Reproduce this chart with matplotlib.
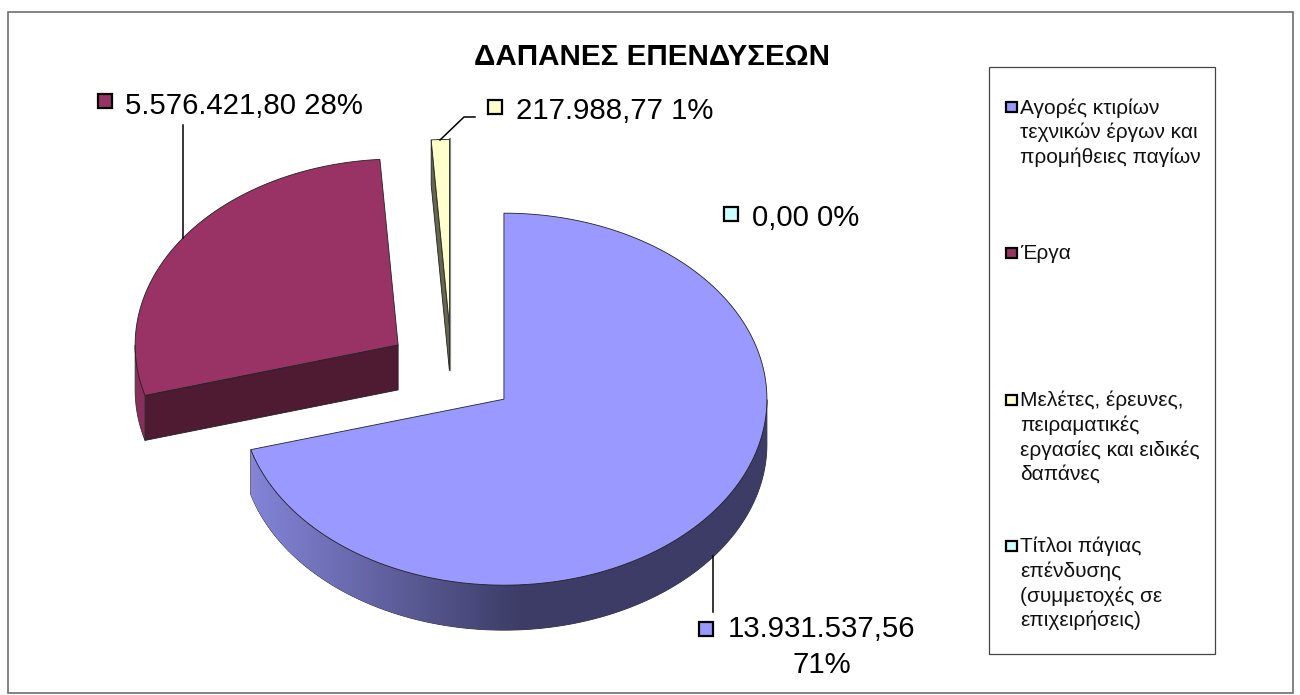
import numpy as np
import matplotlib
matplotlib.use("Agg")
import matplotlib.pyplot as plt
from matplotlib.colors import LinearSegmentedColormap
from matplotlib.patches import Polygon, Rectangle

plt.rcParams['font.family'] = ['Liberation Sans', 'DejaVu Sans']

titulo = "ΔΑΠΑΝΕΣ ΕΠΕΝΔΥΣΕΩΝ"
categorias = [
    "Αγορές κτιρίων\nτεχνικών έργων και\nπρομήθειες παγίων",
    "Έργα",
    "Μελέτες, έρευνες,\nπειραματικές\nεργασίες και ειδικές\nδαπάνες",
    "Τίτλοι πάγιας\nεπένδυσης\n(συμμετοχές σε\nεπιχειρήσεις)",
]
valores = [13931537.56, 5576421.80, 217988.77, 0.00]
cores = ["#9999FF", "#993366", "#FFFFCC", "#CCFFFF"]
paredes = ["#3C3C66", "#8A2E5C", "#66664F", "#CCFFFF"]
cortes = ["#3C3C66", "#4F1B33", "#66664F", "#CCFFFF"]

# geometria da pizza em pixels
cx, cy = 451.7, 371.4
rx, ry = 263, 186
altura = 45
ex, ey = 65.5, 46


def fmt(v):
    s = f"{v:,.2f}"
    return s.replace(",", "#").replace(".", ",").replace("#", ".")


def ponto(x0, y0, t):
    return x0 + rx * np.sin(t), y0 - ry * np.cos(t)


fig = plt.figure(figsize=(13, 6.95), dpi=100)
ax = fig.add_axes([0, 0, 1, 1])
ax.axis('off')

ax.add_patch(Rectangle((8, 12), 1285, 681, fc='white', ec='#6e6e6e', lw=1.2))
ax.text(652, 57, titulo, fontsize=21.3, fontweight='bold', ha='center', va='center', color='black')

total = sum(valores)
inicio = 0.0
angulos = []
for v in valores:
    fim = inicio + 2 * np.pi * v / total
    angulos.append((inicio, fim))
    inicio = fim

degrade = LinearSegmentedColormap.from_list("parede", ["#8484D8", "#3C3C66"])

# fatia 3, fatia 2 e depois a maior, de tras para frente
for i in [2, 1, 0]:
    a, b = angulos[i]
    meio = (a + b) / 2
    x0 = cx + ex * np.sin(meio)
    y0 = cy - ey * np.cos(meio)
    ts = np.linspace(a, b, 300)
    xs, ys = ponto(x0, y0, ts)

    # face do corte visivel
    if i != 0:
        xa, ya = ponto(x0, y0, a)
        ax.add_patch(Polygon([(x0, y0), (xa, ya), (xa, ya + altura), (x0, y0 + altura)],
                             fc=cortes[i], ec='#222222', lw=0.6, zorder=2 + i))

    # lado cinza da fatia fina
    if i == 2:
        xb, yb = ponto(x0, y0, b)
        ax.plot([xb + 1, x0 + 1], [yb, y0 + altura], color='#8a8a8a', lw=1.6, zorder=1.5)

    # parede externa, so a parte da frente
    vis = np.cos(ts) < 0
    if vis.any() and i != 2:
        xv, yv = xs[vis], ys[vis]
        contorno = np.column_stack([np.r_[xv, xv[::-1]], np.r_[yv, yv[::-1] + altura]])
        parede = Polygon(contorno, closed=True, fc=paredes[i], ec='#333333', lw=0.6, zorder=3 + i)
        ax.add_patch(parede)
        if i == 0:
            grad = np.clip((np.linspace(xv.min(), xv.max(), 512) - 251) / 270, 0, 1)
            im = ax.imshow(grad[np.newaxis, :], cmap=degrade, vmin=0, vmax=1, aspect='auto',
                           extent=[xv.min(), xv.max(), (yv + altura).max(), yv.min()],
                           zorder=3.2 + i)
            im.set_clip_path(parede)

    # tampa
    topo = np.column_stack([np.r_[x0, xs], np.r_[y0, ys]])
    ax.add_patch(Polygon(topo, closed=True, fc=cores[i], ec='#222222', lw=0.6, zorder=4 + i))

# linhas de chamada
ax.plot([713, 713], [556, 612], color='black', lw=1.1, zorder=10)
ax.plot([183, 183], [125, 238], color='black', lw=1.1, zorder=10)
ax.plot([475, 464, 440], [117, 117, 140], color='black', lw=1.1, zorder=10)

# rotulos de dados
rotulos = [
    (706, 629, f"{fmt(valores[0])}\n{valores[0] / total:.0%}", 822, 647, 'center'),
    (105, 101, f"{fmt(valores[1])} {valores[1] / total:.0%}", 125, 106, 'left'),
    (495, 107, f"{fmt(valores[2])} {valores[2] / total:.0%}", 516, 111, 'left'),
    (731, 214, f"{fmt(valores[3])} {valores[3] / total:.0%}", 752, 218, 'left'),
]
for i, (mx, my, txt, tx, ty, ali) in enumerate(rotulos):
    ax.add_patch(Rectangle((mx - 7, my - 7), 14, 14, fc=cores[i], ec='black', lw=1.6, zorder=11))
    ax.text(tx, ty, txt, fontsize=21.2, ha=ali, va='center', color='black', linespacing=1.36, zorder=11)

# legenda
ax.add_patch(Rectangle((989, 67), 226, 587, fc='white', ec='#444444', lw=0.9, zorder=1))
leg_y = [107, 253, 400, 546]
for i, cat in enumerate(categorias):
    ax.add_patch(Rectangle((1006, leg_y[i] - 5), 10.5, 10, fc=cores[i], ec='black', lw=1.6, zorder=11))
    ax.text(1020, leg_y[i] - 9, cat, fontsize=15, ha='left', va='top', color='#111111',
            linespacing=1.325, zorder=11)

ax.set_xlim(0, 1300)
ax.set_ylim(695, 0)

fig.savefig("out.png", dpi=100)
